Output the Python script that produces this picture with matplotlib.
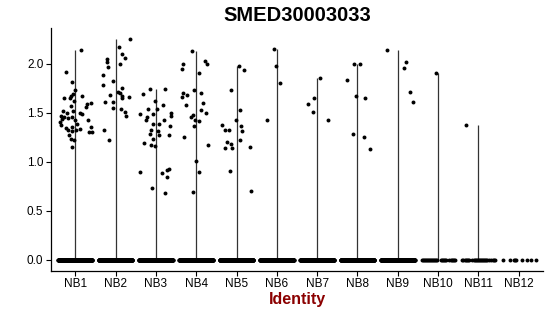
import numpy as np
import matplotlib
matplotlib.use("Agg")
import matplotlib.pyplot as plt

plt.rcParams['font.family'] = ['Liberation Sans', 'DejaVu Sans']

groups = ['NB1', 'NB2', 'NB3', 'NB4', 'NB5', 'NB6',
          'NB7', 'NB8', 'NB9', 'NB10', 'NB11', 'NB12']

# expressing cells: (jitter offset, value)
nb1_x = [0.15, -0.24, -0.07, 0.0, -0.05, -0.10, -0.27, -0.13, 0.18, -0.02, 0.30, 0.40,
         -0.10, 0.28, -0.30, -0.20, 0.11, 0.18, -0.05, -0.36, -0.27, -0.08, -0.33, -0.38,
         -0.17, 0.0, 0.31, -0.36, -0.22, -0.07, 0.05, -0.18, 0.01, 0.11, 0.38, 0.35,
         0.41, -0.07, -0.15, -0.10, -0.03, -0.08]
nb1_y = [2.14, 1.915, 1.81, 1.73, 1.69, 1.67, 1.65, 1.65, 1.67, 1.62, 1.59, 1.60,
         1.57, 1.555, 1.52, 1.50, 1.50, 1.49, 1.52, 1.47, 1.45, 1.45, 1.43, 1.405,
         1.44, 1.425, 1.425, 1.375, 1.34, 1.35, 1.385, 1.32, 1.32, 1.33, 1.35, 1.30,
         1.30, 1.31, 1.27, 1.23, 1.22, 1.15]
nb2_x = [0.35, 0.09, 0.16, 0.23, -0.22, -0.20, 0.11, -0.18, -0.30, -0.05, -0.32, 0.15,
         0.05, 0.10, 0.15, -0.13, 0.33, 0.16, -0.05, -0.25, -0.07, 0.13, 0.23, 0.25,
         -0.28, -0.17]
nb2_y = [2.25, 2.17, 2.10, 2.055, 2.05, 2.02, 2.00, 1.96, 1.885, 1.82, 1.78, 1.75,
         1.71, 1.70, 1.67, 1.68, 1.66, 1.65, 1.61, 1.61, 1.545, 1.535, 1.505, 1.46,
         1.32, 1.22]
nb3_x = [-0.15, 0.22, -0.31, -0.01, 0.18, -0.19, 0.03, -0.07, -0.40, 0.38, 0.37, -0.21,
         -0.24, 0.20, 0.09, -0.08, 0.35, -0.11, 0.05, -0.14, 0.09, 0.33, -0.06, -0.30,
         -0.11, -0.02, -0.40, 0.16, 0.27, 0.33, 0.27, -0.10, 0.22]
nb3_y = [1.74, 1.74, 1.69, 1.62, 1.58, 1.535, 1.535, 1.49, 1.49, 1.50, 1.47, 1.45,
         1.42, 1.425, 1.385, 1.38, 1.365, 1.32, 1.31, 1.28, 1.275, 1.275, 1.23, 1.19,
         1.17, 1.16, 0.89, 0.88, 0.91, 0.92, 0.84, 0.73, 0.68]
nb4_x = [-0.10, 0.23, 0.27, -0.33, -0.36, 0.07, -0.32, -0.36, -0.23, -0.06, 0.12, -0.25,
         0.17, 0.12, 0.25, -0.07, -0.12, -0.02, 0.07, -0.05, -0.29, 0.30, 0.0, 0.07, -0.07]
nb4_y = [2.13, 2.03, 2.00, 2.00, 1.94, 1.90, 1.70, 1.66, 1.68, 1.73, 1.70, 1.575,
         1.595, 1.525, 1.50, 1.48, 1.455, 1.425, 1.41, 1.36, 1.25, 1.17, 1.01, 0.895, 0.69]
nb5_x = [0.07, 0.18, -0.13, 0.09, -0.02, 0.10, -0.37, -0.29, -0.19, 0.14, -0.23, -0.13,
         0.09, -0.29, -0.11, 0.33, -0.16, 0.36]
nb5_y = [1.98, 1.93, 1.73, 1.53, 1.42, 1.36, 1.37, 1.32, 1.32, 1.31, 1.20, 1.18,
         1.22, 1.14, 1.14, 1.15, 0.90, 0.70]
nb6_x = [-0.06, -0.02, 0.08, -0.25]
nb6_y = [2.15, 1.98, 1.80, 1.425]
nb7_x = [0.06, -0.08, -0.22, -0.10, 0.27]
nb7_y = [1.85, 1.65, 1.59, 1.51, 1.425]
nb8_x = [-0.08, 0.06, -0.27, -0.04, 0.19, -0.12, 0.16, 0.30]
nb8_y = [2.00, 2.00, 1.83, 1.67, 1.65, 1.28, 1.25, 1.13]
nb9_x = [-0.27, 0.20, 0.16, 0.30, 0.38]
nb9_y = [2.14, 2.02, 1.95, 1.71, 1.61]
nb10_x = [-0.05]
nb10_y = [1.90]
nb11_x = [-0.32]
nb11_y = [1.37]
nb12_x = []
nb12_y = []

# non-expressing (zero) cells: runs of jittered dots as (from, to, count)
zero_runs = [
    [(-0.42, 0.42, 300)],
    [(-0.42, 0.42, 300)],
    [(-0.42, 0.42, 300)],
    [(-0.42, 0.42, 300)],
    [(-0.42, 0.42, 300)],
    [(-0.42, 0.42, 300)],
    [(-0.42, 0.42, 300)],
    [(-0.42, 0.42, 300)],
    [(-0.42, 0.42, 300)],
    [(-0.41, -0.02, 16), (0.06, 0.20, 6), (0.28, 0.42, 6)],
    [(-0.40, -0.24, 7), (-0.15, 0.25, 16), (0.32, 0.42, 4)],
    [(-0.38, -0.38, 1), (-0.23, -0.23, 1), (-0.13, -0.06, 3), (0.09, 0.09, 1),
     (0.21, 0.21, 1), (0.31, 0.31, 1), (0.42, 0.42, 1)],
]

pos_x = [nb1_x, nb2_x, nb3_x, nb4_x, nb5_x, nb6_x, nb7_x, nb8_x, nb9_x, nb10_x, nb11_x, nb12_x]
pos_y = [nb1_y, nb2_y, nb3_y, nb4_y, nb5_y, nb6_y, nb7_y, nb8_y, nb9_y, nb10_y, nb11_y, nb12_y]

fig = plt.figure(figsize=(5.5, 3.16), dpi=100)
ax = fig.add_axes([0.0927, 0.1434, 0.8946, 0.768])

for i in range(len(groups)):
    # violin collapses to a thin line from 0 up to the max value
    if len(pos_y[i]) > 0:
        ax.vlines(i, 0, max(pos_y[i]), color='#333333', lw=0.9, zorder=1)
    zx = np.concatenate([np.linspace(a, b, n) for a, b, n in zero_runs[i]]) + i
    ax.scatter(zx, np.zeros(len(zx)), s=8, color='black', lw=0, zorder=2)
    ax.scatter(i + np.array(pos_x[i]), pos_y[i], s=8, color='black', lw=0, zorder=2)

ax.set_xlim(-0.6, len(groups) - 0.4)
ax.set_ylim(-0.1125, 2.3625)
ax.set_xticks(range(len(groups)))
ax.set_xticklabels(groups)
ax.set_yticks([0, 0.5, 1.0, 1.5, 2.0])
ax.set_yticklabels(['0.0', '0.5', '1.0', '1.5', '2.0'])
ax.tick_params(labelsize=8.5, length=3.5, width=0.8, colors='black', pad=2)

for s in ['top', 'right']:
    ax.spines[s].set_visible(False)
for s in ['left', 'bottom']:
    ax.spines[s].set_linewidth(0.9)

ax.set_xlabel('Identity', fontsize=11.5, fontweight='bold', color='#8B0000', labelpad=1)
fig.text(0.54, 0.95, 'SMED30003033', fontsize=14.5, fontweight='bold',
         ha='center', va='center')

fig.savefig('out.png', dpi=100)
